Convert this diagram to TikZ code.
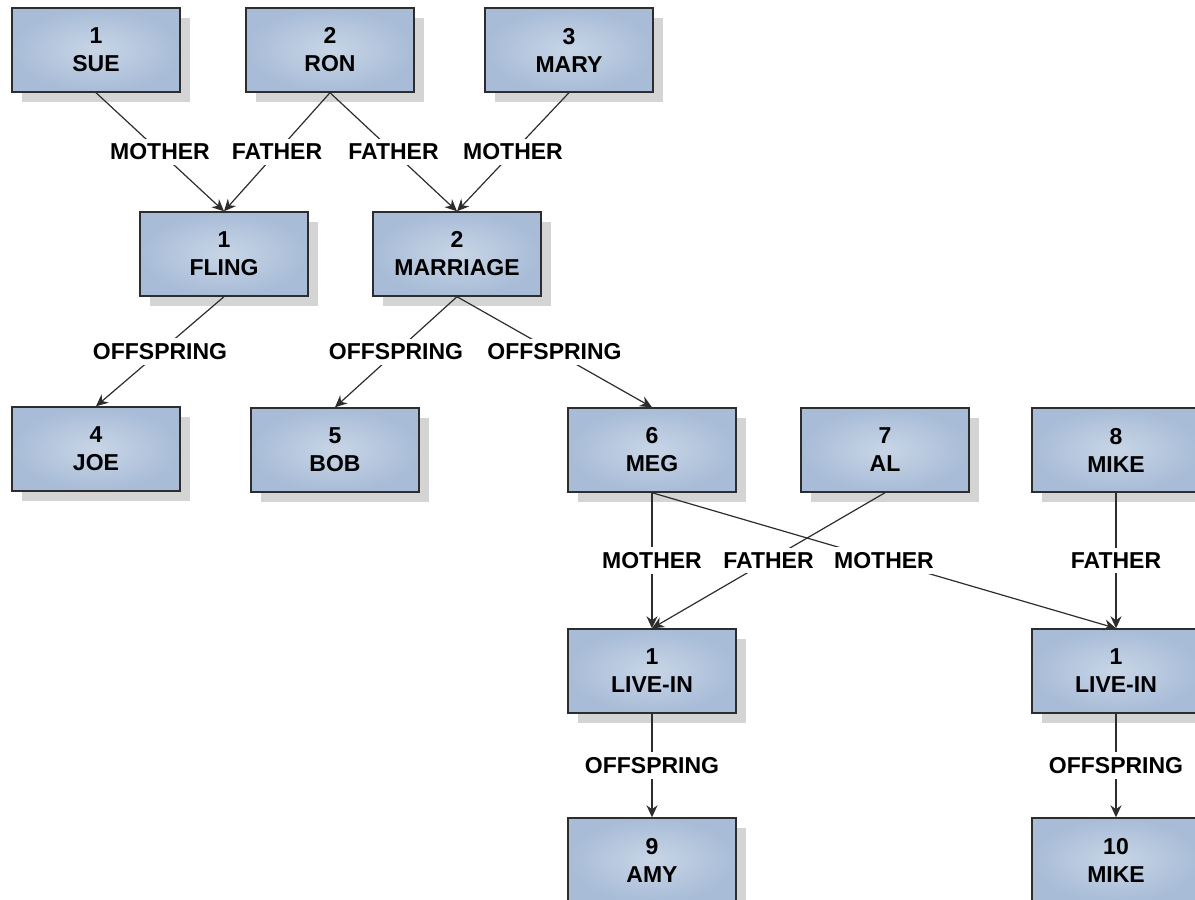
\documentclass[tikz,border=0pt]{standalone}
\usepackage{fontspec}
\setmainfont{Liberation Sans}
\usetikzlibrary{arrows.meta, shadows}
\definecolor{boxline}{RGB}{45,45,45}
\definecolor{boxin}{RGB}{200,213,230}
\definecolor{boxout}{RGB}{168,188,215}
\definecolor{boxshadow}{RGB}{212,212,212}

\begin{document}
\begin{tikzpicture}[x=0.5pt, y=-0.5pt,
        person/.style={draw=boxline, line width=0.7pt, inner color=boxin, outer color=boxout,
            minimum width=84pt, minimum height=42pt, align=center,
            font=\fontsize{11.5}{14}\selectfont\bfseries,
            drop shadow={shadow xshift=5pt, shadow yshift=-5pt, fill=boxshadow, opacity=1}},
        rel/.style={draw=boxline, line width=0.6pt, -{Stealth[length=6pt, width=5.5pt]}},
        lbl/.style={fill=white, inner sep=2.5pt, font=\fontsize{11.5}{14}\selectfont\bfseries}]
        \useasboundingbox (0,0) rectangle (1195,900);
        \clip (0,0) rectangle (1195,900);

        % people and unions
        \node[person] (sue) at (96,50) {1\\SUE};
        \node[person] (ron) at (330,50) {2\\RON};
        \node[person] (mary) at (569,50) {3\\MARY};
        \node[person] (fling) at (224,254) {1\\FLING};
        \node[person] (marriage) at (457,254) {2\\MARRIAGE};
        \node[person] (joe) at (96,449) {4\\JOE};
        \node[person] (bob) at (335,450) {5\\BOB};
        \node[person] (meg) at (652,450) {6\\MEG};
        \node[person] (al) at (885,450) {7\\AL};
        \node[person] (mike) at (1116,450) {8\\MIKE};
        \node[person] (livein) at (652,671) {1\\LIVE-IN};
        \node[person] (liveinb) at (1116,671) {1\\LIVE-IN};
        \node[person] (amy) at (652,860) {9\\AMY};
        \node[person] (mikeb) at (1116,860) {10\\MIKE};

        \draw[rel] (sue.south) -- node[lbl] {MOTHER} (fling.north);
        \draw[rel] (ron.south) -- node[lbl] {FATHER} (fling.north);
        \draw[rel] (ron.south) -- node[lbl] {FATHER} (marriage.north);
        \draw[rel] (mary.south) -- node[lbl] {MOTHER} (marriage.north);

        \draw[rel] (fling.south) -- node[lbl] {OFFSPRING} (joe.north);
        \draw[rel] (marriage.south) -- node[lbl] {OFFSPRING} (bob.north);
        \draw[rel] (marriage.south) -- node[lbl] {OFFSPRING} (meg.north);

        \draw[rel] (meg.south) -- node[lbl] {MOTHER} (livein.north);
        \draw[rel] (al.south) -- node[lbl] {FATHER} (livein.north);
        \draw[rel] (meg.south) -- node[lbl] {MOTHER} (liveinb.north);
        \draw[rel] (mike.south) -- node[lbl] {FATHER} (liveinb.north);

        \draw[rel] (livein.south) -- node[lbl] {OFFSPRING} (amy.north);
        \draw[rel] (liveinb.south) -- node[lbl] {OFFSPRING} (mikeb.north);
    \end{tikzpicture}
\end{document}
